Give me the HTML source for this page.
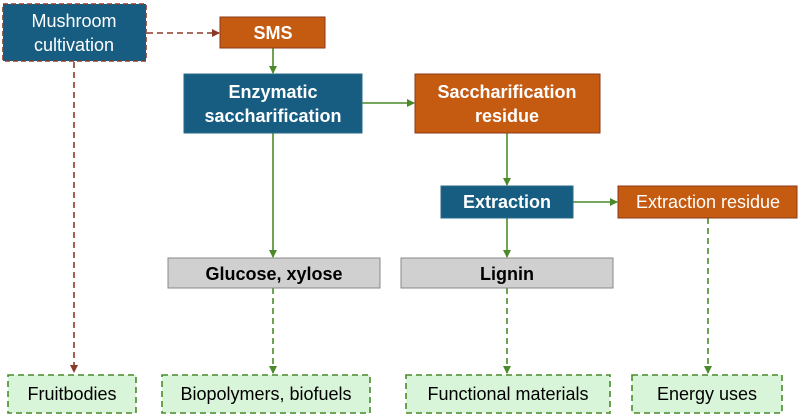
<!DOCTYPE html>
<html><head><style>
body{margin:0;width:800px;height:418px;background:#fff;overflow:hidden;font-family:"Liberation Sans",sans-serif}
svg{position:absolute;left:0;top:0}
</style></head><body>
<svg width="800" height="418" viewBox="0 0 800 418">
<defs>
<marker id="ag" markerWidth="8" markerHeight="8" refX="7" refY="4" orient="auto" markerUnits="userSpaceOnUse"><path d="M0,0 L8,4 L0,8z" fill="#4a8a2a"/></marker>
<marker id="ab" markerWidth="8" markerHeight="8" refX="7" refY="4" orient="auto" markerUnits="userSpaceOnUse"><path d="M0,0 L8,4 L0,8z" fill="#8b3a2a"/></marker>
</defs>
<g stroke-width="1.6" fill="none">
<line x1="147" y1="33" x2="219" y2="33" stroke="#8b3a2a" stroke-dasharray="6,4" marker-end="url(#ab)"/>
<line x1="74" y1="62" x2="74" y2="372" stroke="#8b3a2a" stroke-dasharray="6,4" marker-end="url(#ab)"/>
<line x1="273" y1="48" x2="273" y2="73" stroke="#4a8a2a" marker-end="url(#ag)"/>
<line x1="362" y1="103" x2="414" y2="103" stroke="#4a8a2a" marker-end="url(#ag)"/>
<line x1="273" y1="133" x2="273" y2="257" stroke="#4a8a2a" marker-end="url(#ag)"/>
<line x1="507" y1="133" x2="507" y2="185" stroke="#4a8a2a" marker-end="url(#ag)"/>
<line x1="507" y1="218" x2="507" y2="257" stroke="#4a8a2a" marker-end="url(#ag)"/>
<line x1="573" y1="202" x2="617" y2="202" stroke="#4a8a2a" marker-end="url(#ag)"/>
<line x1="273" y1="288" x2="273" y2="373" stroke="#4a8a2a" stroke-dasharray="6,4" marker-end="url(#ag)"/>
<line x1="507" y1="288" x2="507" y2="373" stroke="#4a8a2a" stroke-dasharray="6,4" marker-end="url(#ag)"/>
<line x1="708" y1="218" x2="708" y2="373" stroke="#4a8a2a" stroke-dasharray="6,4" marker-end="url(#ag)"/>
</g>
<rect x="3" y="4" width="143" height="57" fill="#175d82" stroke="#8b3a2a" stroke-width="1.6" stroke-dasharray="5,3"/>
<rect x="220" y="17" width="105" height="31" fill="#c55a11" stroke="#8b3a1a"/>
<rect x="184" y="74" width="178" height="59" fill="#175d82" stroke="#2a6a8a"/>
<rect x="415" y="74" width="185" height="59" fill="#c55a11" stroke="#8b3a1a"/>
<rect x="441" y="186" width="132" height="32" fill="#175d82" stroke="#2a6a8a"/>
<rect x="618" y="186" width="179" height="32" fill="#c55a11" stroke="#8b3a1a"/>
<rect x="168" y="258" width="212" height="30" fill="#d0d0d0" stroke="#888"/>
<rect x="401" y="258" width="212" height="30" fill="#d0d0d0" stroke="#888"/>
<g fill="#d9f5d9" stroke="#4a8a2a" stroke-width="1.6" stroke-dasharray="6,4">
<rect x="8" y="375" width="128" height="38"/>
<rect x="162" y="375" width="208" height="38"/>
<rect x="406" y="375" width="204" height="38"/>
<rect x="632" y="375" width="150" height="38"/>
</g>
<g font-family="Liberation Sans, sans-serif" font-size="18" text-anchor="middle">
<text x="74" y="27" fill="#fff">Mushroom</text>
<text x="74" y="51" fill="#fff">cultivation</text>
<text x="273" y="39" fill="#fff" font-weight="bold">SMS</text>
<text x="273" y="98" fill="#fff" font-weight="bold">Enzymatic</text>
<text x="273" y="122" fill="#fff" font-weight="bold">saccharification</text>
<text x="507" y="98" fill="#fff" font-weight="bold">Saccharification</text>
<text x="507" y="122" fill="#fff" font-weight="bold">residue</text>
<text x="507" y="208" fill="#fff" font-weight="bold">Extraction</text>
<text x="708" y="208" fill="#fff">Extraction residue</text>
<text x="274" y="280" fill="#000" font-weight="bold">Glucose, xylose</text>
<text x="507" y="280" fill="#000" font-weight="bold">Lignin</text>
<text x="72" y="400" fill="#000">Fruitbodies</text>
<text x="266" y="400" fill="#000">Biopolymers, biofuels</text>
<text x="508" y="400" fill="#000">Functional materials</text>
<text x="707" y="400" fill="#000">Energy uses</text>
</g>
</svg>
</body></html>
